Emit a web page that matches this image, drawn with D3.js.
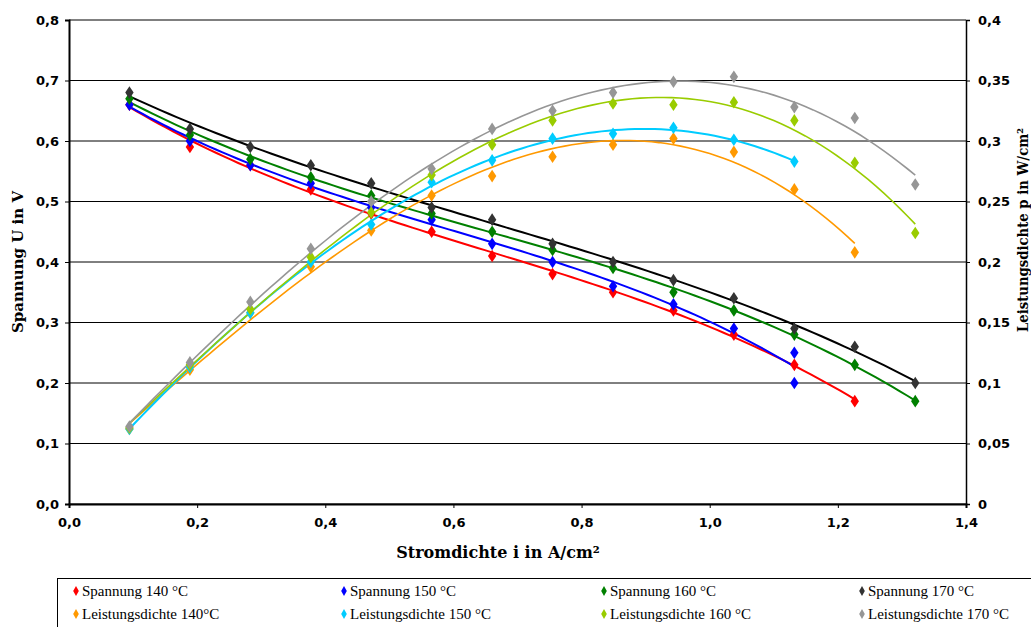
<!DOCTYPE html>
<html>
<head>
<meta charset="utf-8">
<script src="https://cdn.jsdelivr.net/npm/d3@7"></script>
<style>
  body { margin: 0; background: #fff; }
  .tick text { font-family: "DejaVu Sans", Verdana, sans-serif; font-weight: bold; font-size: 13px; }
</style>
</head>
<body>
<div id="chart"></div>
<script>
var width = 1031;
var height = 627;

// current density i in A/cm²
var current = [0.0943, 0.1887, 0.2830, 0.3774, 0.4717, 0.5660, 0.6604, 0.7547, 0.8491, 0.9434, 1.0377, 1.1321, 1.2264, 1.3208];

// voltage U in V
var u140 = [0.66, 0.59, 0.56, 0.52, 0.48, 0.45, 0.41, 0.38, 0.35, 0.32, 0.28, 0.23, 0.17];
var u150 = [0.66, 0.60, 0.56, 0.53, 0.49, 0.47, 0.43, 0.40, 0.36, 0.33, 0.29, 0.25];
var u150extra = [[1.1321, 0.20]];
var u160 = [0.67, 0.61, 0.57, 0.54, 0.51, 0.48, 0.45, 0.42, 0.39, 0.35, 0.32, 0.28, 0.23, 0.17];
var u170 = [0.68, 0.62, 0.59, 0.56, 0.53, 0.49, 0.47, 0.43, 0.40, 0.37, 0.34, 0.29, 0.26, 0.20];

// power density p in W/cm²
var p140 = [0.062, 0.111, 0.158, 0.196, 0.226, 0.255, 0.271, 0.287, 0.297, 0.302, 0.291, 0.260, 0.208];
var p150 = [0.062, 0.113, 0.158, 0.200, 0.231, 0.266, 0.284, 0.302, 0.306, 0.311, 0.301, 0.283];
var p160 = [0.063, 0.115, 0.161, 0.204, 0.241, 0.272, 0.297, 0.317, 0.331, 0.330, 0.332, 0.317, 0.282, 0.224];
var p170 = [0.064, 0.117, 0.167, 0.211, 0.250, 0.277, 0.310, 0.325, 0.340, 0.349, 0.353, 0.328, 0.319, 0.264];

var leftTicks = [0, 0.1, 0.2, 0.3, 0.4, 0.5, 0.6, 0.7, 0.8];
var rightTicks = [0, 0.05, 0.1, 0.15, 0.2, 0.25, 0.3, 0.35, 0.4];
var xTicks = [0, 0.2, 0.4, 0.6, 0.8, 1.0, 1.2, 1.4];

function pts(vals, extra) {
  var a = vals.map(function(v, i) { return [current[i], v]; });
  return extra ? a.concat(extra) : a;
}

var series = [
  {name: "Spannung 140 °C", data: pts(u140), axis: "l", marker: "#ff0000", line: "#ff0000", lw: 2, order: 3},
  {name: "Spannung 150 °C", data: pts(u150, u150extra), axis: "l", marker: "#0000ff", line: "#0000ff", lw: 2, order: 3},
  {name: "Spannung 160 °C", data: pts(u160), axis: "l", marker: "#008000", line: "#008000", lw: 2, order: 3},
  {name: "Spannung 170 °C", data: pts(u170), axis: "l", marker: "#333333", line: "#000000", lw: 2, order: 3},
  {name: "Leistungsdichte 140°C", data: pts(p140), axis: "r", marker: "#ff9900", line: "#ff9900", lw: 1.6, order: 3},
  {name: "Leistungsdichte 150 °C", data: pts(p150), axis: "r", marker: "#00ccff", line: "#00ccff", lw: 2, order: 3},
  {name: "Leistungsdichte 160 °C", data: pts(p160), axis: "r", marker: "#99cc00", line: "#99cc00", lw: 1.6, order: 3},
  {name: "Leistungsdichte 170 °C", data: pts(p170), axis: "r", marker: "#969696", line: "#969696", lw: 1.6, order: 3}
];

// least squares polynomial trendline
function polyfit(data, order) {
  var n = order + 1, A = [], b = [];
  for (var r = 0; r < n; r++) {
    A.push([]); b.push(0);
    for (var c = 0; c < n; c++) A[r].push(0);
  }
  data.forEach(function(d) {
    for (var r = 0; r < n; r++) {
      b[r] += d[1] * Math.pow(d[0], r);
      for (var c = 0; c < n; c++) A[r][c] += Math.pow(d[0], r + c);
    }
  });
  for (var k = 0; k < n; k++) {
    for (var r2 = k + 1; r2 < n; r2++) {
      var f = A[r2][k] / A[k][k];
      for (var c2 = k; c2 < n; c2++) A[r2][c2] -= f * A[k][c2];
      b[r2] -= f * b[k];
    }
  }
  var coef = new Array(n);
  for (var i = n - 1; i >= 0; i--) {
    var s = b[i];
    for (var j = i + 1; j < n; j++) s -= A[i][j] * coef[j];
    coef[i] = s / A[i][i];
  }
  return function(x) {
    var y = 0;
    for (var q = 0; q < n; q++) y += coef[q] * Math.pow(x, q);
    return y;
  };
}

var margin = {left: 69, right: 65, top: 20, bottom: 123};
var plotW = width - margin.left - margin.right;
var plotH = height - margin.top - margin.bottom;

var svg = d3.select("#chart").append("svg")
  .attr("width", width)
  .attr("height", height);

var g = svg.append("g")
  .attr("transform", "translate(" + margin.left + "," + margin.top + ")");

var x = d3.scaleLinear().domain([0, 1.4]).range([0, plotW]);
var yL = d3.scaleLinear().domain([0, 0.8]).range([plotH, 0]);
var yR = d3.scaleLinear().domain([0, 0.4]).range([plotH, 0]);

var comma = function(d) { return d3.format(".1f")(d).replace(".", ","); };
var commaR = function(d) { return d === 0 ? "0" : String(+d.toFixed(2)).replace(".", ","); };

// gridlines
g.append("g").selectAll("line")
  .data(leftTicks)
  .enter().append("line")
  .attr("x1", 0).attr("x2", plotW)
  .attr("y1", function(d) { return yL(d); })
  .attr("y2", function(d) { return yL(d); })
  .attr("stroke", "#000")
  .attr("stroke-width", 1);

// axes
var axL = g.append("g").call(d3.axisLeft(yL).tickValues(leftTicks).tickFormat(comma).tickSize(4).tickPadding(6));
var axR = g.append("g").attr("transform", "translate(" + plotW + ",0)")
  .call(d3.axisRight(yR).tickValues(rightTicks).tickFormat(commaR).tickSize(4).tickPadding(8));
var axB = g.append("g").attr("transform", "translate(0," + plotH + ")")
  .call(d3.axisBottom(x).tickValues(xTicks).tickFormat(comma).tickSize(4).tickPadding(10));
[axL, axR, axB].forEach(function(a) {
  a.select(".domain").attr("stroke", "#000").attr("stroke-width", 2);
  a.selectAll(".tick line").attr("stroke", "#000");
  a.selectAll(".tick text").attr("fill", "#000");
});
axR.select(".domain").attr("stroke-width", 1.5);

// trendlines
series.forEach(function(s) {
  var f = polyfit(s.data, s.order);
  var xs = s.data.map(function(d) { return d[0]; });
  var x0 = d3.min(xs), x1 = d3.max(xs);
  var yS = s.axis === "l" ? yL : yR;
  var samples = d3.range(0, 101).map(function(i) { var xx = x0 + (x1 - x0) * i / 100; return [xx, f(xx)]; });
  g.append("path")
    .datum(samples)
    .attr("fill", "none")
    .attr("stroke", s.line)
    .attr("stroke-width", s.lw)
    .attr("d", d3.line().x(function(d) { return x(d[0]); }).y(function(d) { return yS(d[1]); }));
});

// markers
var diamond = d3.symbol().type(d3.symbolDiamond).size(46);
series.forEach(function(s) {
  var yS = s.axis === "l" ? yL : yR;
  g.append("g").selectAll("path")
    .data(s.data)
    .enter().append("path")
    .attr("d", diamond)
    .attr("transform", function(d) { return "translate(" + x(d[0]) + "," + yS(d[1]) + ") scale(1.15,1)"; })
    .attr("fill", s.marker);
});

// axis titles
var titleFont = "'DejaVu Serif', serif";
svg.append("text")
  .attr("x", 498).attr("y", 558)
  .attr("text-anchor", "middle")
  .style("font-family", titleFont).style("font-weight", "bold").style("font-size", "16px")
  .text("Stromdichte i in A/cm²");
svg.append("text")
  .attr("transform", "translate(23," + (margin.top + plotH / 2) + ") rotate(-90)")
  .attr("text-anchor", "middle")
  .style("font-family", titleFont).style("font-weight", "bold").style("font-size", "15px")
  .text("Spannung U in V");
svg.append("text")
  .attr("transform", "translate(1028,230) rotate(-90)")
  .attr("text-anchor", "middle")
  .attr("textLength", 204).attr("lengthAdjust", "spacingAndGlyphs")
  .style("font-family", titleFont).style("font-weight", "bold").style("font-size", "14px")
  .text("Leistungsdichte p in W/cm²");

// legend
var legend = svg.append("g");
legend.append("rect")
  .attr("x", 57.5).attr("y", 578.5)
  .attr("width", 1000).attr("height", 100)
  .attr("fill", "#fff").attr("stroke", "#000").attr("stroke-width", 1);
var colX = [76, 344, 604, 862];
series.forEach(function(s, i) {
  var cx = colX[i % 4], cy = i < 4 ? 591 : 614;
  legend.append("path")
    .attr("d", d3.symbol().type(d3.symbolDiamond).size(28))
    .attr("transform", "translate(" + cx + "," + cy + ")")
    .attr("fill", s.marker);
  legend.append("text")
    .attr("x", cx + 6).attr("y", cy + 5)
    .style("font-family", "'Liberation Serif', 'Times New Roman', serif").style("font-size", "15px")
    .text(s.name);
});
</script>
</body>
</html>
